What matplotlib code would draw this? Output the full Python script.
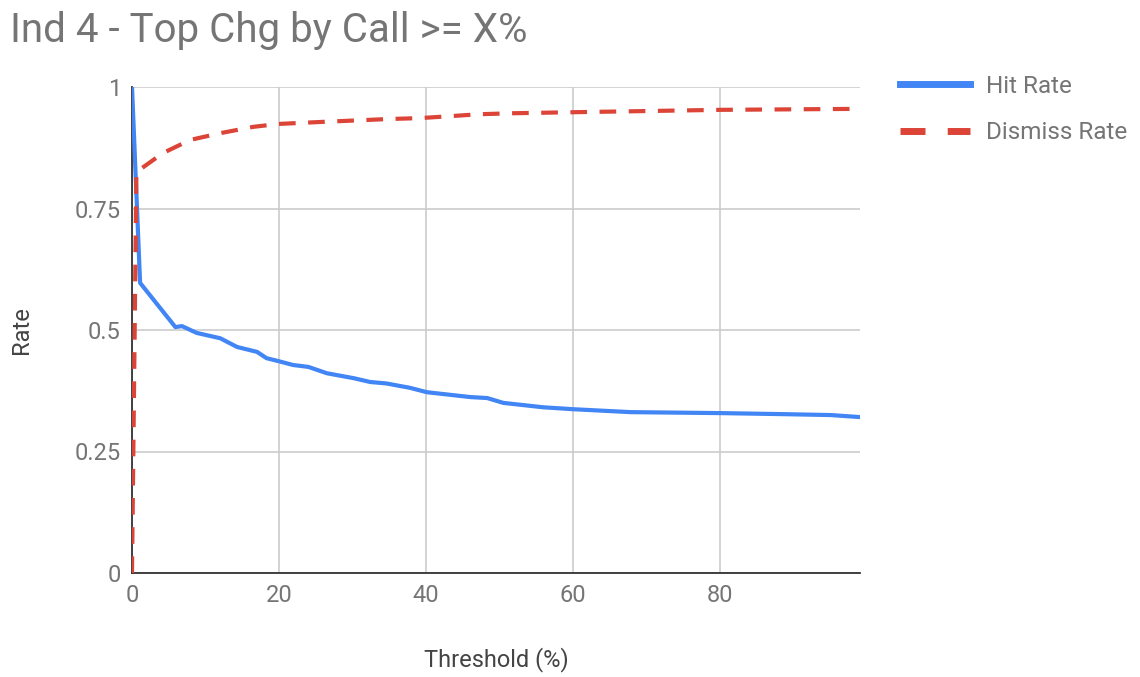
import matplotlib
matplotlib.use("Agg")
import matplotlib.pyplot as plt
from matplotlib.ticker import FuncFormatter

plt.rcParams['font.family'] = ['Roboto', 'DejaVu Sans']

# Data
hit_x = [0, 1.1, 5.9, 6.8, 8.8, 12, 14.3, 17, 18.3, 19.9, 21.9, 24, 26.5, 30.1,
         32.4, 34.6, 37.8, 40.1, 46, 48.3, 50.5, 55.9, 60, 67.8, 80, 88, 95, 98.8]
hit_rate = [1.0, 0.597, 0.506, 0.508, 0.494, 0.483, 0.465, 0.455, 0.442, 0.436,
            0.428, 0.424, 0.411, 0.401, 0.393, 0.390, 0.381, 0.372, 0.362, 0.360,
            0.350, 0.341, 0.337, 0.331, 0.329, 0.327, 0.325, 0.321]
dismiss_x = [0, 0.6, 4.2, 7.9, 12, 16.5, 19.9, 25.6, 34.7, 39.2, 47.3, 51.8, 59.6, 80, 98.6]
dismiss_rate = [0.0, 0.825, 0.864, 0.891, 0.905, 0.918, 0.924, 0.928, 0.934, 0.936,
                0.944, 0.946, 0.948, 0.953, 0.955]
x_ticks = [0, 20, 40, 60, 80]
y_ticks = [0, 0.25, 0.5, 0.75, 1]

fig = plt.figure(figsize=(11.4, 6.77), dpi=100)
ax = fig.add_axes([132/1140, 1-573/677, (860-132)/1140, (573-87)/677])

l1, = ax.plot(hit_x, hit_rate, color='#4285F4', lw=3, label='Hit Rate',
              solid_joinstyle='round', zorder=3)
l2, = ax.plot(dismiss_x, dismiss_rate, color='#DB4437', lw=3, label='Dismiss Rate',
              dashes=(4, 3), zorder=3)

ax.set_xlim(0, 99)
ax.set_ylim(0, 1)
ax.set_xticks(x_ticks)
ax.set_yticks(y_ticks)
ax.yaxis.set_major_formatter(FuncFormatter(lambda v, p: f"{v:g}"))
ax.grid(True, color='#cccccc', lw=1.2, zorder=0)
ax.set_axisbelow(True)
for s in ['top', 'right']:
    ax.spines[s].set_visible(False)
for s in ['left', 'bottom']:
    ax.spines[s].set_color('#333333')
    ax.spines[s].set_linewidth(1.3)
ax.tick_params(length=0, labelsize=17, labelcolor='#757575', pad=8)

ax.set_xlabel('Threshold (%)', fontsize=17, color='#444444', va='center')
ax.xaxis.set_label_coords((496-132)/728, (573-660)/486)
ax.set_ylabel('Rate', fontsize=17, color='#444444', va='center')
ax.yaxis.set_label_coords((22-132)/728, 0.5)

fig.text(10/1140, 1-42/677, 'Ind 4 - Top Chg by Call >= X%', fontsize=29,
         color='#757575', ha='left', va='baseline')

leg = fig.legend(handles=[l1, l2], loc='upper left',
                 bbox_to_anchor=(900/1140, 1-75/677), frameon=False,
                 fontsize=17.5, handlelength=2.9, handletextpad=0.65,
                 labelspacing=0.95, borderaxespad=0, borderpad=0)
for t in leg.get_texts():
    t.set_color('#757575')
leg.get_lines()[0].set_linewidth(5)
leg.get_lines()[1].set_linewidth(5)
leg.get_lines()[1].set_dashes((3.6, 3.2))

fig.savefig('out.png', dpi=100)
